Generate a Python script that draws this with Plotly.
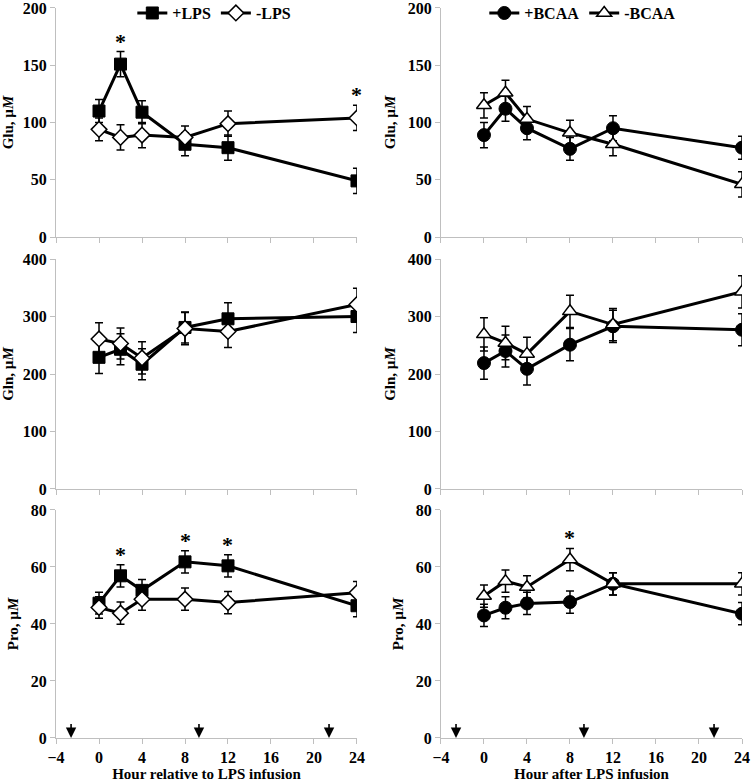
import plotly.graph_objects as go

hours = [0, 2, 4, 8, 12, 24]

# Glu (µM)
glu_lps_pos = [110, 151, 109, 81, 78, 49]
glu_lps_pos_err = [10, 11, 10, 10, 11, 11]
glu_lps_neg = [94, 87, 89, 87, 99, 104]
glu_lps_neg_err = [10, 11, 11, 10, 11, 11]
glu_bcaa_pos = [89, 112, 95, 77, 95, 78]
glu_bcaa_pos_err = [11, 11, 10, 10, 11, 10]
glu_bcaa_neg = [115, 126, 103, 91, 81, 46]
glu_bcaa_neg_err = [11, 11, 11, 11, 10, 11]

# Gln (µM)
gln_lps_pos = [229, 243, 217, 281, 296, 300]
gln_lps_pos_err = [28, 27, 27, 27, 28, 28]
gln_lps_neg = [261, 253, 228, 279, 274, 321]
gln_lps_neg_err = [28, 27, 28, 28, 28, 28]
gln_bcaa_pos = [219, 240, 209, 251, 283, 277]
gln_bcaa_pos_err = [28, 28, 28, 28, 28, 28]
gln_bcaa_neg = [269, 254, 235, 309, 286, 343]
gln_bcaa_neg_err = [29, 29, 29, 28, 28, 28]

# Pro (µM)
pro_lps_pos = [47.3, 56.9, 51.8, 61.8, 60.4, 46.4]
pro_lps_pos_err = [3.8, 3.9, 3.8, 3.9, 3.9, 3.9]
pro_lps_neg = [45.8, 43.8, 48.7, 48.7, 47.5, 51.0]
pro_lps_neg_err = [3.8, 3.9, 3.9, 3.9, 3.9, 3.9]
pro_bcaa_pos = [43.0, 45.7, 47.2, 47.7, 54.1, 43.6]
pro_bcaa_pos_err = [3.9, 3.9, 3.9, 3.9, 3.9, 3.9]
pro_bcaa_neg = [49.8, 55.0, 53.0, 62.6, 54.1, 54.1]
pro_bcaa_neg_err = [3.9, 3.9, 3.9, 3.9, 3.9, 3.9]

arrow_hours = [-2.6, 9.3, 21.4]

FONT = "Liberation Serif"
AXC = "#bfbfbf"

fig = go.Figure()

xdom_l = [0.0745, 0.4747]
xdom_r = [0.5864, 0.9867]
ydoms = [[0.6977, 0.9898], [0.3763, 0.6696], [0.0587, 0.3495]]

def axn(r, c):
    return r * 2 + c + 1

def ax_names(n):
    return ("x" if n == 1 else f"x{n}", "y" if n == 1 else f"y{n}")

styles = {
    "+LPS": dict(symbol="square", size=12, color="black", line=dict(color="black", width=1)),
    "-LPS": dict(symbol="diamond", size=12, color="white", line=dict(color="black", width=1.5)),
    "+BCAA": dict(symbol="circle", size=13, color="black", line=dict(color="black", width=1)),
    "-BCAA": dict(symbol="triangle-up", size=13, color="white", line=dict(color="black", width=1.5)),
}

panels = [
    (0, 0, [("+LPS", glu_lps_pos, glu_lps_pos_err), ("-LPS", glu_lps_neg, glu_lps_neg_err)]),
    (0, 1, [("+BCAA", glu_bcaa_pos, glu_bcaa_pos_err), ("-BCAA", glu_bcaa_neg, glu_bcaa_neg_err)]),
    (1, 0, [("+LPS", gln_lps_pos, gln_lps_pos_err), ("-LPS", gln_lps_neg, gln_lps_neg_err)]),
    (1, 1, [("+BCAA", gln_bcaa_pos, gln_bcaa_pos_err), ("-BCAA", gln_bcaa_neg, gln_bcaa_neg_err)]),
    (2, 0, [("+LPS", pro_lps_pos, pro_lps_pos_err), ("-LPS", pro_lps_neg, pro_lps_neg_err)]),
    (2, 1, [("+BCAA", pro_bcaa_pos, pro_bcaa_pos_err), ("-BCAA", pro_bcaa_neg, pro_bcaa_neg_err)]),
]

for r, c, series in panels:
    n = axn(r, c)
    xa, ya = ax_names(n)
    for name, vals, errs in series:
        fig.add_trace(go.Scatter(
            x=hours, y=vals, name=name, mode="lines+markers",
            xaxis=xa, yaxis=ya,
            line=dict(color="black", width=3),
            marker=styles[name],
            error_y=dict(type="data", array=errs, visible=True, color="black", thickness=1.5, width=4),
            showlegend=(r == 0),
            legend="legend" if c == 0 else "legend2",
        ))

ylabels = ["Glu, µ<i>M</i>", "Gln, µ<i>M</i>", "Pro, µ<i>M</i>"]
yranges = [[0, 200], [0, 400], [0, 80]]
ydticks = [50, 100, 20]
xtitles = ["Hour relative to LPS infusion", "Hour after LPS infusion"]

TICKF = dict(family=FONT, size=16, color="black", weight="bold")
TITLEF = dict(family=FONT, size=15, color="black", weight="bold")

layout = {}
for r in range(3):
    for c in range(2):
        n = axn(r, c)
        xk = "xaxis" if n == 1 else f"xaxis{n}"
        yk = "yaxis" if n == 1 else f"yaxis{n}"
        xa, ya = ax_names(n)
        layout[xk] = dict(
            domain=xdom_l if c == 0 else xdom_r, anchor=ya,
            range=[-4, 24], dtick=4, tick0=-4, showgrid=False, zeroline=False,
            showline=True, linecolor=AXC, linewidth=1,
            ticks="outside", tickcolor=AXC, ticklen=5,
            showticklabels=(r == 2), automargin=False, ticklabeloverflow="allow",
            tickfont=TICKF,
            title=dict(text=xtitles[c] if r == 2 else "", font=TITLEF, standoff=2),
        )
        layout[yk] = dict(
            domain=ydoms[r], anchor=xa,
            range=yranges[r], dtick=ydticks[r], showgrid=False, zeroline=False,
            showline=True, linecolor=AXC, linewidth=1,
            ticks="outside", tickcolor=AXC, ticklen=5, automargin=False,
            ticklabeloverflow="allow",
            tickfont=TICKF,
            title=dict(text=ylabels[r], font=TITLEF, standoff=8),
        )

annotations = []

def star(r, c, x, y):
    n = axn(r, c)
    xa, ya = ax_names(n)
    annotations.append(dict(x=x, y=y, xref=xa, yref=ya, text="*", showarrow=False,
                            yanchor="bottom", yshift=-4,
                            font=dict(family=FONT, size=22, color="black", weight="bold")))

star(0, 0, 2, glu_lps_pos[1] + glu_lps_pos_err[1])
star(0, 0, 24, glu_lps_neg[5] + glu_lps_neg_err[5])
star(2, 0, 2, pro_lps_pos[1] + pro_lps_pos_err[1])
star(2, 0, 8, pro_lps_pos[3] + pro_lps_pos_err[3])
star(2, 0, 12, pro_lps_pos[4] + pro_lps_pos_err[4])
star(2, 1, 8, pro_bcaa_neg[3] + pro_bcaa_neg_err[3])

for c in range(2):
    n = axn(2, c)
    xa, ya = ax_names(n)
    for h in arrow_hours:
        annotations.append(dict(x=h, y=0, ax=h, ay=5.4, xref=xa, yref=ya, axref=xa, ayref=ya,
                                text="", showarrow=True, arrowhead=2, arrowsize=1.3,
                                arrowwidth=1.6, arrowcolor="black"))

fig.update_layout(
    width=752, height=784,
    margin=dict(l=0, r=0, t=0, b=0, autoexpand=False),
    plot_bgcolor="white", paper_bgcolor="white",
    font=dict(family=FONT, color="black"),
    annotations=annotations,
    hovermode=False,
    legend=dict(orientation="h", x=0.285, y=1.005, xanchor="center", yanchor="top",
                font=dict(family=FONT, size=16, color="black", weight="bold"),
                bgcolor="rgba(0,0,0,0)", itemwidth=30, tracegroupgap=0),
    legend2=dict(orientation="h", x=0.775, y=1.005, xanchor="center", yanchor="top",
                 font=dict(family=FONT, size=16, color="black", weight="bold"),
                 bgcolor="rgba(0,0,0,0)", itemwidth=30, tracegroupgap=0),
    **layout,
)

fig.write_html("out.html", config={"displayModeBar": False},
               post_script="document.body.style.margin='0';document.body.style.overflow='hidden';")
